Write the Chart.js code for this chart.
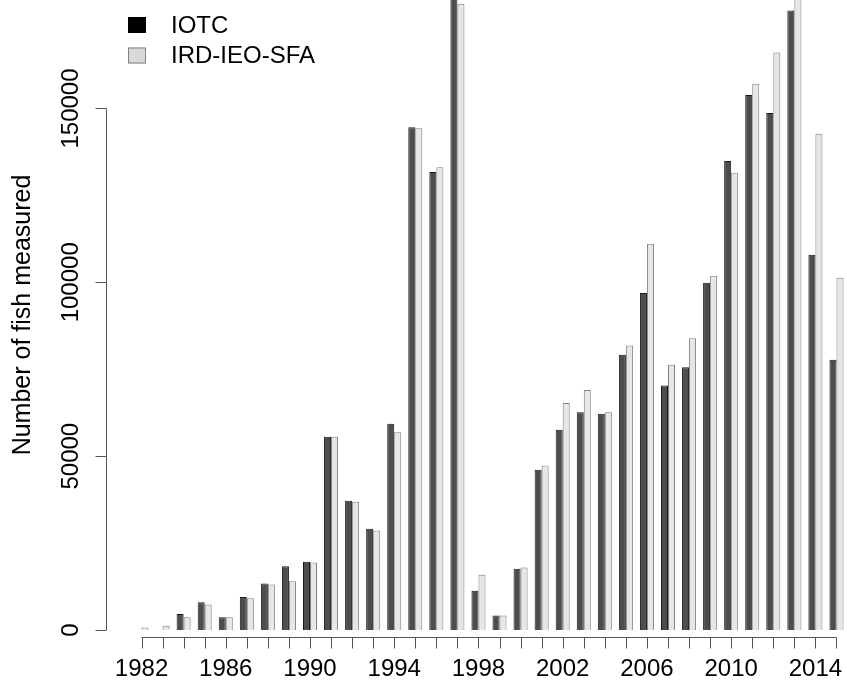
<!DOCTYPE html>
<html>
<head>
<meta charset="utf-8">
<script src="https://cdn.jsdelivr.net/npm/chart.js@4.4.1/dist/chart.umd.min.js"></script>
<style>
  body { margin: 0; background: #fff; }
  canvas { display: block; }
</style>
</head>
<body>
<canvas id="myChart" width="847" height="688"></canvas>
<script>
var years = ['1982', '1983', '1984', '1985', '1986', '1987', '1988', '1989', '1990', '1991',
             '1992', '1993', '1994', '1995', '1996', '1997', '1998', '1999', '2000', '2001',
             '2002', '2003', '2004', '2005', '2006', '2007', '2008', '2009', '2010', '2011',
             '2012', '2013', '2014', '2015'];
var shownYears = ['1982', '1986', '1990', '1994', '1998', '2002', '2006', '2010', '2014'];
var iotc = [0, 0, 4600, 8000, 3700, 9500, 13400, 18300, 19600, 55600,
            37200, 29100, 59300, 144600, 131700, 186000, 11300, 4200, 17600, 46100,
            57600, 62600, 62200, 79200, 96900, 70300, 75600, 99900, 134900, 153900,
            148700, 178200, 107900, 77700];
var ird = [700, 1200, 3700, 7300, 3700, 9100, 13100, 14000, 19400, 55600,
           36900, 28600, 56900, 144300, 133100, 180100, 15900, 4200, 18000, 47300,
           65300, 69000, 62600, 81800, 111100, 76300, 83900, 101900, 131500, 157100,
           166100, 185000, 142700, 101300];
var yTicks = [0, 50000, 100000, 150000];
var yMax = 181200;

var font = '"Liberation Sans", Arial, Helvetica, sans-serif';

// R style axes + legend, drawn from the chart scales
var rAxes = {
  id: 'rAxes',
  afterDraw: function(chart) {
    var ctx = chart.ctx, x = chart.scales.x, y = chart.scales.y;
    var base = y.getPixelForValue(0);
    ctx.save();
    ctx.strokeStyle = '#555';
    ctx.lineWidth = 1;

    // x axis
    var ay = Math.round(base + 7) + 0.5;
    ctx.beginPath();
    ctx.moveTo(x.getPixelForValue(0), ay);
    ctx.lineTo(x.getPixelForValue(years.length - 1), ay);
    years.forEach(function(yr, i) {
      var px = Math.round(x.getPixelForValue(i)) + 0.5;
      ctx.moveTo(px, ay);
      ctx.lineTo(px, ay + 11);
    });
    ctx.stroke();

    // y axis
    var ax = Math.round(chart.chartArea.left - 25) + 0.5;
    ctx.beginPath();
    ctx.moveTo(ax, y.getPixelForValue(yTicks[0]));
    ctx.lineTo(ax, y.getPixelForValue(yTicks[yTicks.length - 1]));
    yTicks.forEach(function(v) {
      var py = Math.round(y.getPixelForValue(v)) + 0.5;
      ctx.moveTo(ax, py);
      ctx.lineTo(ax - 11, py);
    });
    ctx.stroke();

    ctx.fillStyle = '#000';
    ctx.font = '24px ' + font;
    ctx.textAlign = 'center';
    ctx.textBaseline = 'middle';
    yTicks.forEach(function(v) {
      ctx.save();
      ctx.translate(ax - 35, y.getPixelForValue(v));
      ctx.rotate(-Math.PI / 2);
      ctx.fillText(String(v), 0, 0);
      ctx.restore();
    });

    // legend
    ctx.textAlign = 'left';
    chart.data.datasets.forEach(function(ds, i) {
      var ly = 25 + i * 30.5;
      ctx.fillStyle = ds.legendFill;
      ctx.fillRect(128, ly - 8, 18, 16);
      ctx.strokeStyle = ds.legendBorder;
      ctx.strokeRect(128.5, ly - 7.5, 17, 15);
      ctx.fillStyle = '#000';
      ctx.fillText(ds.label, 171, ly + 1);
    });
    ctx.restore();
  }
};

var ctx = document.getElementById('myChart').getContext('2d');
var myBarChart = new Chart(ctx, {
  type: 'bar',
  data: {
    labels: years,
    datasets: [{
      label: 'IOTC',
      data: iotc,
      backgroundColor: '#4d4d4d',
      borderColor: '#1a1a1a',
      borderWidth: 1,
      legendFill: '#000',
      legendBorder: '#000'
    }, {
      label: 'IRD-IEO-SFA',
      data: ird,
      backgroundColor: '#e6e6e6',
      borderColor: '#808080',
      borderWidth: 1,
      legendFill: '#d9d9d9',
      legendBorder: '#808080'
    }]
  },
  options: {
    responsive: false,
    animation: false,
    layout: { padding: 0 },
    datasets: {
      bar: { categoryPercentage: 0.667, barPercentage: 1.0 }
    },
    plugins: {
      legend: { display: false },
      tooltip: { enabled: false }
    },
    scales: {
      x: {
        grid: { display: false, drawTicks: true, tickLength: 25 },
        border: { display: false },
        ticks: {
          autoSkip: false,
          maxRotation: 0,
          minRotation: 0,
          padding: 0,
          color: '#000',
          font: { family: font, size: 24 },
          callback: function(val, i) {
            return shownYears.indexOf(years[i]) >= 0 ? years[i] : '';
          }
        },
        afterFit: function(scale) { scale.height = 58; }
      },
      y: {
        min: 0,
        max: yMax,
        grid: { display: false, drawTicks: false },
        border: { display: false },
        ticks: { display: false, stepSize: 50000 },
        title: {
          display: true,
          text: 'Number of fish measured',
          color: '#000',
          font: { family: font, size: 25 },
          padding: { top: 8, bottom: 0 }
        },
        afterFit: function(scale) { scale.width = 131; }
      }
    }
  },
  plugins: [rAxes]
});
</script>
</body>
</html>
